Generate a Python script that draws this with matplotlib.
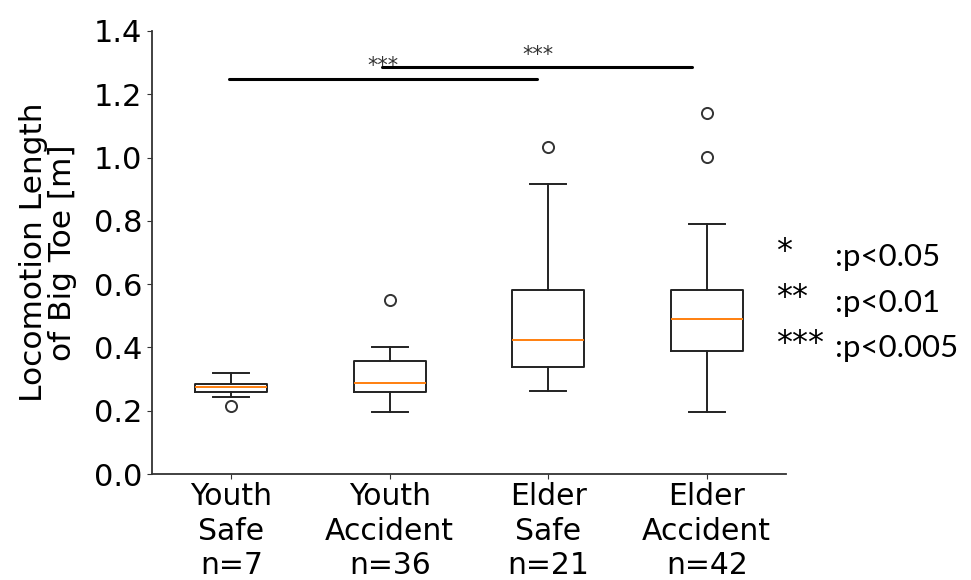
import matplotlib
matplotlib.use("Agg")
import matplotlib.pyplot as plt

# ---- data ----
categories = ["Youth\nSafe\nn=7", "Youth\nAccident\nn=36", "Elder\nSafe\nn=21", "Elder\nAccident\nn=42"]
whislo = [0.244, 0.195, 0.262, 0.195]
q1 = [0.259, 0.258, 0.339, 0.388]
med = [0.276, 0.288, 0.423, 0.490]
q3 = [0.285, 0.357, 0.582, 0.582]
whishi = [0.318, 0.402, 0.918, 0.789]
fliers = [[0.216], [0.550], [1.033], [1.001, 1.140]]

sig_lines = [(0.983, 2.929, 1.249), (1.954, 3.905, 1.285)]
sig_text = [(1.959, 1.289, "***"), (2.933, 1.324, "***")]
yticks = [0.0, 0.2, 0.4, 0.6, 0.8, 1.0, 1.2, 1.4]
legend_stars = ["*", "**", "***"]
legend_p = [":p<0.05", ":p<0.01", ":p<0.005"]

fig = plt.figure(figsize=(9.71, 5.80), dpi=100)
ax = fig.add_axes([152 / 971, 106 / 580, (786 - 152) / 971, (474 - 31) / 580])

stats = []
for i in range(len(categories)):
    stats.append(dict(whislo=whislo[i], q1=q1[i], med=med[i], q3=q3[i],
                      whishi=whishi[i], fliers=fliers[i]))

lw = 1.4
ax.bxp(stats, positions=range(1, len(categories) + 1), widths=0.455,
       boxprops=dict(color="#222222", linewidth=lw),
       whiskerprops=dict(color="#222222", linewidth=lw),
       capprops=dict(color="#222222", linewidth=lw),
       medianprops=dict(color="#ff7f0e", linewidth=lw),
       flierprops=dict(marker="o", markerfacecolor="none", markeredgecolor="#333333",
                       markersize=8, markeredgewidth=1.4))

for x0, x1, y in sig_lines:
    ax.plot([x0, x1], [y, y], color="black", linewidth=2.2, solid_capstyle="round")
for x, y, s in sig_text:
    ax.text(x, y, s, ha="center", va="center", fontsize=15, color="#333333")

ax.set_xlim(0.5, 4.5)
ax.set_ylim(0.0, 1.4)
ax.set_yticks(yticks)
ax.set_yticklabels([f"{v:.1f}" for v in yticks])
ax.set_xticks(range(1, len(categories) + 1))
ax.set_xticklabels(categories, fontsize=21.5, linespacing=1.24)
ax.tick_params(axis="x", pad=2.5)
ax.tick_params(axis="y", labelsize=22, color="#333333")
ax.tick_params(axis="x", color="#333333")
ax.spines["top"].set_visible(False)
ax.spines["right"].set_visible(False)
for s in ["left", "bottom"]:
    ax.spines[s].set_color("#333333")
    ax.spines[s].set_linewidth(1.3)
ax.set_ylabel("Locomotion Length\nof Big Toe [m]", fontsize=22.5, linespacing=1.02)
ax.yaxis.set_label_coords(-0.118, 0.5)

ys = [257, 303, 348]
for st, p, y in zip(legend_stars, legend_p, ys):
    fig.text(776 / 971, 1 - (y - 5) / 580, st, fontsize=23, family="DejaVu Sans", ha="left", va="center")
    fig.text(835 / 971, 1 - y / 580, p, fontsize=22.5, family="Lato", ha="left", va="center")

fig.savefig("out.png", dpi=100)
